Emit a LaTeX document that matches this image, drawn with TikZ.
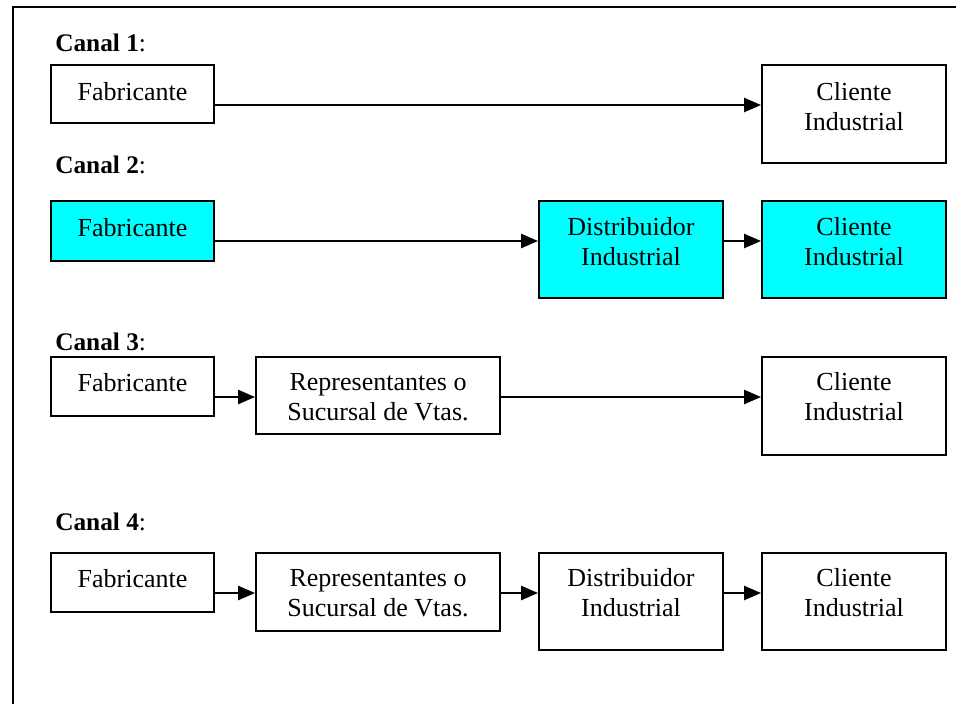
\documentclass[tikz,border=0pt]{standalone}
\usepackage{fontspec}
\setmainfont{Liberation Serif}
\usetikzlibrary{arrows.meta}
\definecolor{cyanfill}{RGB}{0,255,255}
\tikzset{
  box/.style={draw=black, line width=1.4pt, rectangle, inner sep=0pt},
  cyanbox/.style={box, fill=cyanfill},
  txt/.style={align=center, font=\fontsize{18.5}{21.3}\selectfont, inner sep=0pt},
  canal/.style={anchor=west, font=\fontsize{18}{21}\selectfont, inner sep=0pt},
  conn/.style={line width=1.4pt, -{Triangle[length=12pt,width=10pt]}},
  frame/.style={line width=2pt}
}
\begin{document}
\begin{tikzpicture}[x=0.025cm,y=-0.025cm]
\useasboundingbox (0,0) rectangle (956,704);
% frame
\coordinate (fa) at (13,704);
\coordinate (fb) at (13,7);
\coordinate (fc) at (956,7);
\draw[frame] (fa) -- (fb) -- (fc);

% labels
\node[canal] (l1) at (55,43) {\textbf{Canal 1}:};
\node[canal] (l2) at (55,165) {\textbf{Canal 2}:};
\node[canal] (l3) at (55,342) {\textbf{Canal 3}:};
\node[canal] (l4) at (55,522) {\textbf{Canal 4}:};

% Row 1
\node[box, minimum width=163*0.025cm, minimum height=58*0.025cm] (f1) at (132.5,94) {};
\node[box, minimum width=184*0.025cm, minimum height=98*0.025cm] (c1) at (854,114) {};
\node[txt] (f1t) at (132.5,92) {Fabricante};
\node[txt] (c1t) at (854,107) {Cliente\\Industrial};
\draw[conn] (f1.east |- 0,105) -- (c1.west |- 0,105);

% Row 2
\node[cyanbox, minimum width=163*0.025cm, minimum height=60*0.025cm] (f2) at (132.5,231) {};
\node[cyanbox, minimum width=184*0.025cm, minimum height=97*0.025cm] (d2) at (631,249.5) {};
\node[cyanbox, minimum width=184*0.025cm, minimum height=97*0.025cm] (c2) at (854,249.5) {};
\node[txt] (f2t) at (132.5,228) {Fabricante};
\node[txt] (d2t) at (631,242) {Distribuidor\\Industrial};
\node[txt] (c2t) at (854,242) {Cliente\\Industrial};
\draw[conn] (f2.east |- 0,241) -- (d2.west |- 0,241);
\draw[conn] (d2.east |- 0,241) -- (c2.west |- 0,241);

% Row 3
\node[box, minimum width=163*0.025cm, minimum height=59*0.025cm] (f3) at (132.5,386.5) {};
\node[box, minimum width=244*0.025cm, minimum height=77*0.025cm] (r3) at (378,395.5) {};
\node[box, minimum width=184*0.025cm, minimum height=98*0.025cm] (c3) at (854,406) {};
\node[txt] (f3t) at (132.5,383) {Fabricante};
\node[txt] (r3t) at (378,397.5) {Representantes o\\Sucursal de Vtas.};
\node[txt] (c3t) at (854,397) {Cliente\\Industrial};
\draw[conn] (f3.east |- 0,397) -- (r3.west |- 0,397);
\draw[conn] (r3.east |- 0,397) -- (c3.west |- 0,397);

% Row 4
\node[box, minimum width=163*0.025cm, minimum height=59*0.025cm] (f4) at (132.5,582.5) {};
\node[box, minimum width=244*0.025cm, minimum height=78*0.025cm] (r4) at (378,592) {};
\node[box, minimum width=184*0.025cm, minimum height=97*0.025cm] (d4) at (631,601.5) {};
\node[box, minimum width=184*0.025cm, minimum height=97*0.025cm] (c4) at (854,601.5) {};
\node[txt] (f4t) at (132.5,579) {Fabricante};
\node[txt] (r4t) at (378,593) {Representantes o\\Sucursal de Vtas.};
\node[txt] (d4t) at (631,593) {Distribuidor\\Industrial};
\node[txt] (c4t) at (854,593) {Cliente\\Industrial};
\draw[conn] (f4.east |- 0,593) -- (r4.west |- 0,593);
\draw[conn] (r4.east |- 0,593) -- (d4.west |- 0,593);
\draw[conn] (d4.east |- 0,593) -- (c4.west |- 0,593);
\end{tikzpicture}
\end{document}
